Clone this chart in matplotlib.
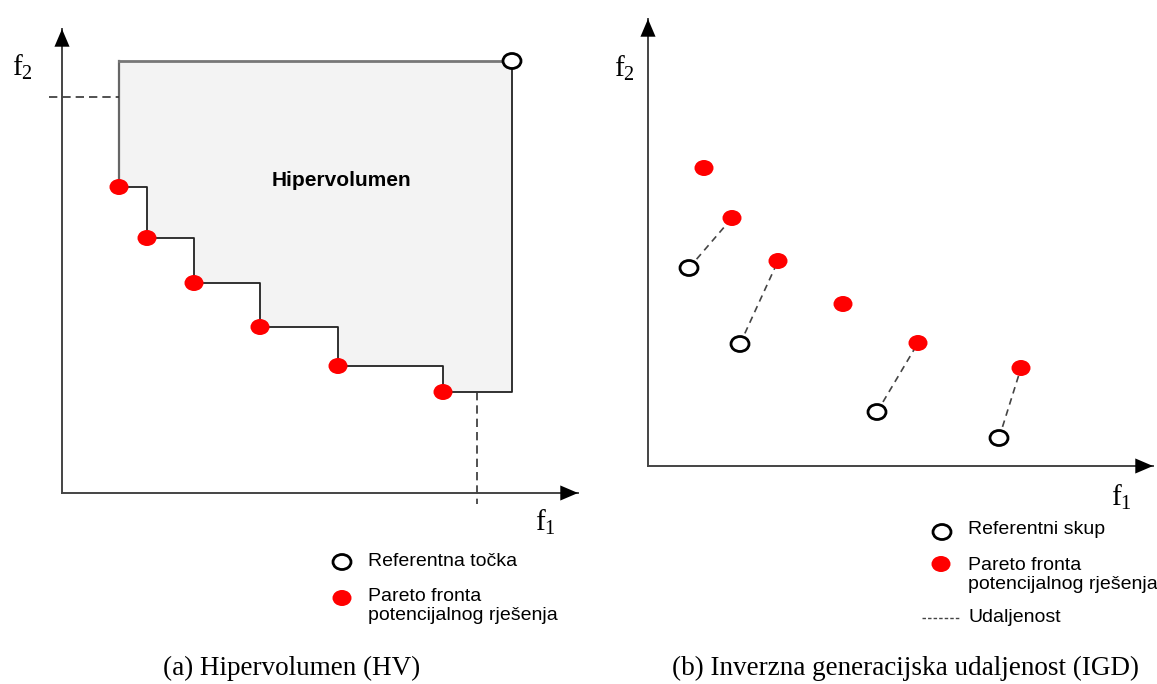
import numpy as np
import matplotlib
matplotlib.use('Agg')
import matplotlib.pyplot as plt
from matplotlib.patches import Ellipse, Polygon

plt.rcParams['mathtext.fontset'] = 'custom'
plt.rcParams['mathtext.rm'] = 'Liberation Serif'
plt.rcParams['mathtext.it'] = 'Liberation Serif:italic'

# panel (a) - hypervolume, coordinates in figure pixels
ref_a = (512, 61)
pareto_a_x = [119, 147, 194, 260, 338, 443]
pareto_a_y = [187, 238, 283, 327, 366, 392]

# panel (b) - IGD
pareto_b_x = [704, 732, 778, 843, 918, 1021]
pareto_b_y = [168, 218, 261, 304, 343, 368]
ref_b_x = [689, 740, 877, 999]
ref_b_y = [268, 344, 412, 438]
# which pareto point each reference point is linked to
links = [1, 2, 4, 5]

legend_a = ['Referentna točka', 'Pareto fronta\npotencijalnog rješenja']
legend_b = ['Referentni skup', 'Pareto fronta\npotencijalnog rješenja', 'Udaljenost']
captions = ['(a) Hipervolumen (HV)', '(b) Inverzna generacijska udaljenost (IGD)']

RED = '#ff0000'
AX_COL = '#444444'
MW, MH = 19, 16  # marker ellipse size


def red_dot(ax, x, y):
    ax.add_patch(Ellipse((x, y), MW, MH, facecolor=RED, edgecolor='none', zorder=5))


def open_dot(ax, x, y):
    ax.add_patch(Ellipse((x, y), MW - 1, MH - 1, facecolor='white', edgecolor='black',
                         lw=2, zorder=5))


def arrow(ax, start, tip):
    ax.plot([start[0], tip[0]], [start[1], tip[1]], color=AX_COL, lw=1.4, zorder=3)
    # filled black head only
    dx, dy = tip[0] - start[0], tip[1] - start[1]
    n = np.hypot(dx, dy)
    back = (tip[0] - dx / n * 14, tip[1] - dy / n * 14)
    ax.annotate('', xy=tip, xytext=back,
                arrowprops=dict(arrowstyle='-|>,head_length=0.75,head_width=0.32',
                                mutation_scale=17, lw=0, color='black',
                                shrinkA=0, shrinkB=0), zorder=3)


fig = plt.figure(figsize=(11.57, 6.84), dpi=100)
ax = fig.add_axes([0, 0, 1, 1])
ax.set_xlim(0, 1157)
ax.set_ylim(684, 0)
ax.axis('off')

# ---------- panel (a) ----------
# staircase outline of the dominated region
sx, sy = [pareto_a_x[0]], [ref_a[1]]
for i in range(len(pareto_a_x)):
    sx.append(pareto_a_x[i]); sy.append(pareto_a_y[i])
    nx = pareto_a_x[i + 1] if i + 1 < len(pareto_a_x) else ref_a[0]
    sx.append(nx); sy.append(pareto_a_y[i])
sx.append(ref_a[0]); sy.append(ref_a[1])
ax.add_patch(Polygon(np.column_stack([sx, sy]), closed=True, facecolor='#f3f3f3',
                     edgecolor='none', zorder=1))
ax.plot(sx[1:], sy[1:], color='#222222', lw=1.3, zorder=2)
ax.plot([sx[0], sx[1]], [sy[0], sy[1]], color='#666666', lw=1.6, zorder=2)
ax.plot([sx[-1], sx[0]], [sy[-1], sy[0]], color='#777777', lw=2, zorder=2)

ax.plot([49, pareto_a_x[0]], [97, 97], color='#333333', lw=1.2, ls=(0, (5, 3)), zorder=2)
ax.plot([477, 477], [pareto_a_y[-1], 504], color='#333333', lw=1.2, ls=(0, (5, 3)), zorder=2)

arrow(ax, (62, 493), (62, 29))
arrow(ax, (62, 493), (578, 493))

for x, y in zip(pareto_a_x, pareto_a_y):
    red_dot(ax, x, y)
open_dot(ax, *ref_a)

ax.text(341, 180, 'Hipervolumen', fontsize=15, fontweight='bold',
        family='Liberation Sans', ha='center', va='center', zorder=6)
ax.text(22, 67, r'$\mathrm{f}_2$', fontsize=21, ha='center', va='center')
ax.text(545, 522, r'$\mathrm{f}_1$', fontsize=21, ha='center', va='center')

open_dot(ax, 342, 562)
ax.text(368, 561, legend_a[0], fontsize=14, family='Liberation Sans', va='center')
red_dot(ax, 342, 598)
ax.text(368, 606, legend_a[1], fontsize=14, family='Liberation Sans', va='center',
        linespacing=1.15)

# ---------- panel (b) ----------
arrow(ax, (648, 466), (648, 19))
arrow(ax, (648, 466), (1153, 466))

for i, j in enumerate(links):
    ax.plot([ref_b_x[i], pareto_b_x[j]], [ref_b_y[i], pareto_b_y[j]],
            color='#444444', lw=1.2, ls=(0, (4, 3)), zorder=2)
for x, y in zip(pareto_b_x, pareto_b_y):
    red_dot(ax, x, y)
for x, y in zip(ref_b_x, ref_b_y):
    open_dot(ax, x, y)

ax.text(624, 68, r'$\mathrm{f}_2$', fontsize=21, ha='center', va='center')
ax.text(1121, 497, r'$\mathrm{f}_1$', fontsize=21, ha='center', va='center')

open_dot(ax, 942, 532)
ax.text(968, 530, legend_b[0], fontsize=14, family='Liberation Sans', va='center')
red_dot(ax, 941, 564)
ax.text(968, 575, legend_b[1], fontsize=14, family='Liberation Sans', va='center',
        linespacing=1.15)
ax.plot([922, 960], [618, 618], color='#444444', lw=1, ls=(0, (2.5, 1.5)))
ax.text(968, 617, legend_b[2], fontsize=14, family='Liberation Sans', va='center')

# captions
ax.text(292, 668, captions[0], fontsize=19.5, family='Liberation Serif',
        ha='center', va='center')
ax.text(905, 668, captions[1], fontsize=19.5, family='Liberation Serif',
        ha='center', va='center')

fig.savefig('out.png', dpi=100)
